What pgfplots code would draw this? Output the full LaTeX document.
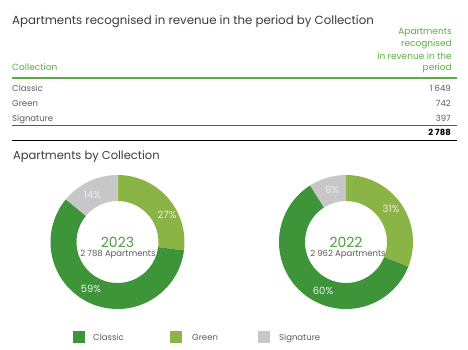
\documentclass[border=0pt]{standalone}
\usepackage{fontspec}
\setmainfont{Poppins}
\usepackage{pgfplots}
\pgfplotsset{compat=1.18}
\definecolor{classic}{HTML}{3E9539}
\definecolor{greenc}{HTML}{8AB445}
\definecolor{sig}{HTML}{C7C7C9}
\definecolor{hdr}{HTML}{5BAD46}
\definecolor{yr}{HTML}{4A9E3C}
\definecolor{ttl}{HTML}{3A3A3A}
\definecolor{txt}{HTML}{5A5A5A}
\definecolor{lbl}{HTML}{EFEFEF}
\newcommand{\fs}[1]{\fontsize{#1}{#1}\selectfont}
% segment: cx cy startangle endangle color
\newcommand{\seg}[5]{%
  \fill[#5] (axis cs:#1,#2) ++({#3}:67pt) arc[start angle={#3}, end angle={#4}, radius=67pt]
    -- ++({#4+180}:26pt) arc[start angle={#4}, end angle={#3}, radius=41pt] -- cycle;}
% donut: cx cy green classic signature (percent)
\newcommand{\donut}[5]{%
  \seg{#1}{#2}{90}{90-3.6*#3}{greenc}
  \seg{#1}{#2}{90-3.6*#3}{90-3.6*(#3+#4)}{classic}
  \seg{#1}{#2}{90-3.6*(#3+#4)}{-270}{sig}}
\begin{document}
\begin{tikzpicture}
\begin{axis}[scale only axis, width=468pt, height=349pt,
  xmin=0, xmax=468, ymin=-349, ymax=0, hide axis, clip=false]
\path (axis cs:0,0) rectangle (axis cs:468,-349);
% ---- table ----
\node[anchor=base west, text=ttl, inner sep=0pt] at (axis cs:12,-25) {\fs{11.8}Apartments recognised in revenue in the period by Collection};
\node[anchor=base east, text=hdr, inner sep=0pt] at (axis cs:452,-35) {\fs{9}Apartments};
\node[anchor=base east, text=hdr, inner sep=0pt] at (axis cs:452,-47) {\fs{9}recognised};
\node[anchor=base east, text=hdr, inner sep=0pt] at (axis cs:452,-59) {\fs{9}in revenue in the};
\node[anchor=base east, text=hdr, inner sep=0pt] at (axis cs:452,-70) {\fs{9}period};
\node[anchor=base west, text=hdr, inner sep=0pt] at (axis cs:12,-70) {\fs{9}Collection};
\draw[hdr, line width=2pt] (axis cs:12,-78) -- (axis cs:457,-78);
\node[anchor=base west, text=txt, inner sep=0pt] at (axis cs:12,-91.5) {\fs{8.5}Classic};
\node[anchor=base west, text=txt, inner sep=0pt] at (axis cs:12,-106.5) {\fs{8.5}Green};
\node[anchor=base west, text=txt, inner sep=0pt] at (axis cs:12,-121.5) {\fs{8.5}Signature};
\node[anchor=base east, text=txt, inner sep=0pt] at (axis cs:451,-91.5) {\fs{8.5}1\hspace{2pt}649};
\node[anchor=base east, text=txt, inner sep=0pt] at (axis cs:451,-106.5) {\fs{8.5}742};
\node[anchor=base east, text=txt, inner sep=0pt] at (axis cs:451,-121.5) {\fs{8.5}397};
\draw[txt, line width=0.8pt] (axis cs:12,-125) -- (axis cs:457,-125);
\node[anchor=base east, text=black, inner sep=0pt] at (axis cs:451,-135) {\fs{8.5}\bfseries 2\hspace{2pt}788};
\draw[black, line width=1.8pt] (axis cs:12,-140.5) -- (axis cs:457,-140.5);
% ---- donuts ----
\node[anchor=base west, text=ttl, inner sep=0pt] at (axis cs:13,-159) {\fs{11.5}Apartments by Collection};
\donut{117.5}{-242}{27}{59}{14}
\donut{346}{-242}{31}{60}{9}
\node[text=lbl, inner sep=0pt] at (axis cs:92.5,-195) {\fs{10}14\%};
\node[text=lbl, inner sep=0pt] at (axis cs:167,-215) {\fs{10}27\%};
\node[text=lbl, inner sep=0pt] at (axis cs:91,-289) {\fs{10}59\%};
\node[text=lbl, inner sep=0pt] at (axis cs:332,-190) {\fs{10}9\%};
\node[text=lbl, inner sep=0pt] at (axis cs:391,-209) {\fs{10}31\%};
\node[text=lbl, inner sep=0pt] at (axis cs:323,-291) {\fs{10}60\%};
\node[anchor=base, text=yr, inner sep=0pt] at (axis cs:117.5,-247) {\fs{14}2023};
\node[anchor=base, text=txt, inner sep=0pt] at (axis cs:118,-256.5) {\fs{8.5}2\hspace{2pt}788 Apartments};
\node[anchor=base, text=yr, inner sep=0pt] at (axis cs:346,-247) {\fs{14}2022};
\node[anchor=base, text=txt, inner sep=0pt] at (axis cs:348,-256.5) {\fs{8.5}2\hspace{2pt}962 Apartments};
% ---- legend ----
\fill[classic] (axis cs:73,-330.5) rectangle (axis cs:85,-342.5);
\node[anchor=base west, text=txt, inner sep=0pt] at (axis cs:93,-340) {\fs{8.5}Classic};
\fill[greenc] (axis cs:170,-330.5) rectangle (axis cs:182,-342.5);
\node[anchor=base west, text=txt, inner sep=0pt] at (axis cs:192,-340) {\fs{8.5}Green};
\fill[sig] (axis cs:258,-330.5) rectangle (axis cs:270,-342.5);
\node[anchor=base west, text=txt, inner sep=0pt] at (axis cs:279,-340) {\fs{8.5}Signature};
\end{axis}
\end{tikzpicture}
\end{document}
